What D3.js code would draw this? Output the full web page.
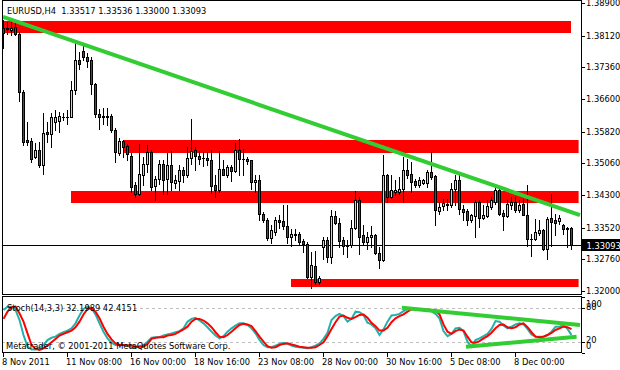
<!DOCTYPE html>
<html>
<head>
<meta charset="utf-8">
<script src="https://d3js.org/d3.v7.min.js"></script>
<style>
  body { margin: 0; background: #fff; }
  text { font-family: "DejaVu Sans", sans-serif; font-size: 8.3px; fill: #000; }
</style>
</head>
<body>
<div id="chart"></div>
<script>
// EURUSD H4 candles (bar index = position in array)
var opens = [1.3830,1.3827,1.3825,1.3833,1.3815,1.3677,1.3561,1.3559,1.3521,1.3537,
  1.3503,1.3580,1.3577,1.3605,1.3607,1.3617,1.3618,1.3617,1.3681,1.3753,
  1.3775,1.3761,1.3753,1.3695,1.3625,1.3619,1.3618,1.3619,1.3585,1.3531,
  1.3559,1.3547,1.3523,1.3453,1.3433,1.3479,1.3505,1.3533,1.3451,1.3469,
  1.3505,1.3468,1.3503,1.3459,1.3463,1.3489,1.3479,1.3519,1.3539,1.3523,
  1.3519,1.3519,1.3515,1.3453,1.3443,1.3493,1.3479,1.3497,1.3487,1.3537,
  1.3517,1.3517,1.3513,1.3461,1.3467,1.3385,1.3371,1.3327,1.3341,1.3371,
  1.3367,1.3355,1.3329,1.3335,1.3337,1.3319,1.3313,1.3233,1.3261,1.3221,
  1.3305,1.3321,1.3281,1.3379,1.3364,1.3321,1.3311,1.3311,1.3352,1.3417,
  1.3333,1.3317,1.3329,1.3335,1.3291,1.3275,1.3477,1.3425,1.3438,1.3437,
  1.3445,1.3489,1.3481,1.3463,1.3455,1.3459,1.3459,1.3484,1.3475,1.3391,
  1.3403,1.3407,1.3407,1.3445,1.3465,1.3397,1.3391,1.3369,1.3379,1.3413,
  1.3375,1.3379,1.3401,1.3413,1.3441,1.3387,1.3379,1.3407,1.3413,1.3393,
  1.3409,1.3383,1.3325,1.3325,1.3339,1.3345,1.3301,1.3375,1.3369,1.3367,
  1.3357,1.3349,1.33517];
var highs = [1.3849,1.3845,1.3847,1.3841,1.3821,1.3681,1.3605,1.3566,1.3554,1.3557,
  1.3626,1.3605,1.3627,1.3633,1.3629,1.3627,1.3633,1.3703,1.3793,1.3773,
  1.3789,1.3771,1.3761,1.3698,1.3637,1.3639,1.3638,1.3625,1.3590,1.3566,
  1.3561,1.3553,1.3530,1.3461,1.3553,1.3521,1.3549,1.3537,1.3475,1.3515,
  1.3513,1.3531,1.3535,1.3477,1.3501,1.3497,1.3545,1.3611,1.3545,1.3535,
  1.3533,1.3533,1.3537,1.3479,1.3535,1.3513,1.3501,1.3501,1.3554,1.3565,
  1.3541,1.3521,1.3515,1.3477,1.3477,1.3389,1.3375,1.3357,1.3377,1.3381,
  1.3407,1.3405,1.3349,1.3349,1.3341,1.3325,1.3317,1.3293,1.3295,1.3237,
  1.3329,1.3329,1.3395,1.3391,1.3375,1.3329,1.3321,1.3369,1.3439,1.3425,
  1.3357,1.3341,1.3355,1.3337,1.3305,1.3527,1.3481,1.3477,1.3465,1.3473,
  1.3521,1.3517,1.3509,1.3469,1.3473,1.3469,1.3489,1.3533,1.3477,1.3413,
  1.3421,1.3421,1.3459,1.3477,1.3477,1.3405,1.3397,1.3385,1.3417,1.3417,
  1.3405,1.3417,1.3425,1.3451,1.3449,1.3393,1.3417,1.3425,1.3425,1.3417,
  1.3421,1.3455,1.3337,1.3373,1.3371,1.3349,1.3377,1.3433,1.3385,1.3381,
  1.3361,1.3353,1.33536];
var lows = [1.3782,1.3815,1.3813,1.3813,1.3655,1.3549,1.3549,1.3509,1.3518,1.3497,
  1.3481,1.3557,1.3545,1.3585,1.3581,1.3609,1.3601,1.3616,1.3673,1.3733,
  1.3753,1.3737,1.3673,1.3617,1.3589,1.3601,1.3597,1.3581,1.3509,1.3527,
  1.3521,1.3513,1.3437,1.3425,1.3429,1.3453,1.3485,1.3441,1.3419,1.3457,
  1.3433,1.3433,1.3441,1.3447,1.3441,1.3461,1.3473,1.3505,1.3489,1.3505,
  1.3499,1.3501,1.3435,1.3425,1.3437,1.3477,1.3473,1.3463,1.3485,1.3477,
  1.3477,1.3505,1.3445,1.3437,1.3369,1.3365,1.3323,1.3315,1.3335,1.3351,
  1.3348,1.3315,1.3309,1.3321,1.3313,1.3293,1.3230,1.3207,1.3217,1.3217,
  1.3277,1.3269,1.3267,1.3361,1.3305,1.3289,1.3281,1.3305,1.3349,1.3289,
  1.3313,1.3301,1.3305,1.3289,1.3255,1.3273,1.3413,1.3423,1.3429,1.3433,
  1.3413,1.3471,1.3437,1.3449,1.3449,1.3457,1.3449,1.3469,1.3359,1.3385,
  1.3393,1.3393,1.3401,1.3405,1.3385,1.3369,1.3357,1.3365,1.3329,1.3353,
  1.3373,1.3377,1.3397,1.3409,1.3381,1.3345,1.3377,1.3397,1.3389,1.3389,
  1.3381,1.3307,1.3285,1.3321,1.3333,1.3299,1.3277,1.3309,1.3333,1.3361,
  1.3337,1.3305,1.33000];
var closes = [1.3818,1.3831,1.3831,1.3815,1.3677,1.3557,1.3557,1.3517,1.3537,1.3501,
  1.3579,1.3575,1.3617,1.3617,1.3619,1.3616,1.3616,1.3681,1.3753,1.3745,
  1.3761,1.3751,1.3695,1.3625,1.3617,1.3618,1.3619,1.3585,1.3533,1.3559,
  1.3545,1.3529,1.3449,1.3433,1.3481,1.3505,1.3533,1.3449,1.3469,1.3505,
  1.3467,1.3503,1.3462,1.3465,1.3489,1.3477,1.3519,1.3535,1.3523,1.3516,
  1.3518,1.3513,1.3451,1.3443,1.3493,1.3479,1.3497,1.3487,1.3537,1.3517,
  1.3516,1.3511,1.3461,1.3467,1.3385,1.3369,1.3327,1.3345,1.3371,1.3365,
  1.3355,1.3329,1.3337,1.3336,1.3317,1.3313,1.3233,1.3263,1.3221,1.3231,
  1.3321,1.3281,1.3379,1.3362,1.3319,1.3307,1.3307,1.3352,1.3417,1.3329,
  1.3317,1.3329,1.3335,1.3291,1.3275,1.3477,1.3425,1.3441,1.3441,1.3445,
  1.3489,1.3477,1.3461,1.3455,1.3465,1.3465,1.3484,1.3473,1.3393,1.3401,
  1.3410,1.3409,1.3445,1.3465,1.3397,1.3389,1.3369,1.3381,1.3413,1.3375,
  1.3381,1.3403,1.3417,1.3441,1.3385,1.3379,1.3409,1.3413,1.3393,1.3405,
  1.3383,1.3325,1.3324,1.3341,1.3345,1.3301,1.3373,1.3365,1.3362,1.3375,
  1.3349,1.3350,1.33093];

// Stochastic(14,3,3): main and signal line
var stochMain = [77,83,83,77,59,32,11,6,6,9,14,23,27,29,34,37,40,44,53,67,
  79,83,80,69,53,38,26,18,14,14,14,13,9,9,12,14,20,27,28,28,
  31,33,35,37,39,44,56,61,63,58,53,46,38,31,26,30,38,44,49,53,
  53,50,44,35,23,14,10,10,13,16,18,16,13,11,10,9,8,10,13,17,
  25,36,59,66,70,66,56,61,74,73,68,54,51,44,32,42,56,67,68,70,
  75,79,79,78,77,77,77,75,70,62,39,30,34,44,45,39,20,11,23,26,
  30,34,43,57,56,49,44,47,51,53,51,43,33,29,29,29,32,38,47,47,
  50,43,32.1989];
var stochSignal = [61,74,82,83,71,56,35,14,7,5,8,13,19,25,31,34,37,40,46,56,
  69,79,80,74,62,47,34,24,17,14,14,13,13,11,11,11,16,25,27,28,
  28,31,32,34,38,42,47,56,61,61,58,53,46,37,29,28,32,38,44,50,
  52,51,48,39,29,20,12,9,10,14,16,17,15,13,11,10,9,9,10,14,
  19,30,43,55,65,67,63,61,64,68,69,63,54,48,40,40,45,55,62,66,
  69,74,78,79,79,78,78,76,75,69,51,38,34,39,42,40,29,19,18,21,
  26,30,36,44,50,51,46,44,46,51,53,46,37,29,28,29,32,36,41,44,
  47,46,42.4151];

// red zones: [first bar, last bar, upper price, lower price]
var zones = [
  [-0.25, 142, 1.3848, 1.3819],
  [30, 143.9, 1.3561, 1.3531],
  [17, 143.9, 1.3439, 1.3410],
  [72, 143.9, 1.3228, 1.3209]
];
// green trend lines: [bar, value] pairs
var priceTrend = [[0, 1.3857], [144.25, 1.3382]];
var stochTrends = [
  [[99.7, 81], [144.25, 50]],
  [[115.75, 11], [143.4, 29]]
];

var priceTicks = [1.389, 1.3812, 1.3736, 1.366, 1.3582, 1.3506, 1.343, 1.3352, 1.3276, 1.32];
var stochTicks = [100, 80, 20, 0];
var dateLabels = ["8 Nov 2011", "11 Nov 08:00", "16 Nov 00:00", "18 Nov 16:00", "23 Nov 08:00",
  "28 Nov 00:00", "30 Nov 16:00", "5 Dec 08:00", "8 Dec 00:00"];
var dateBars = [0, 16, 32, 48, 64, 80, 96, 112, 128];

var svgWidth = 620;
var svgHeight = 370;
var left = 2, right = 581;
var mainTop = 0, mainBottom = 294;
var subTop = 296, subBottom = 352;

var svg = d3.select("#chart")
  .append("svg")
  .attr("width", svgWidth)
  .attr("height", svgHeight)
  .style("display", "block");

// scales
var x = d3.scaleLinear().domain([0, 144.5]).range([3, 581]);
var y = d3.scaleLinear().domain([1.32, 1.389]).range([291, 3]);
var ys = d3.scaleLinear().domain([0, 100]).range([352.8, 297.2]);

svg.append("clipPath").attr("id", "clipMain")
  .append("rect").attr("x", left).attr("y", mainTop).attr("width", right - left).attr("height", mainBottom - mainTop);
svg.append("clipPath").attr("id", "clipSub")
  .append("rect").attr("x", left).attr("y", subTop).attr("width", right - left).attr("height", subBottom - subTop);

var main = svg.append("g").attr("clip-path", "url(#clipMain)");
var sub = svg.append("g").attr("clip-path", "url(#clipSub)");

// zones
main.selectAll(".zone").data(zones).enter()
  .append("rect")
  .attr("x", d => x(d[0]))
  .attr("y", d => Math.round(y(d[2])))
  .attr("width", d => x(d[1]) - x(d[0]))
  .attr("height", d => Math.round(y(d[3])) - Math.round(y(d[2])))
  .attr("fill", "#ff0000");

// current price line
var lastClose = closes[closes.length - 1];
var py = Math.round(y(lastClose)) + 0.5;
main.append("line")
  .attr("x1", left).attr("x2", right)
  .attr("y1", py).attr("y2", py)
  .attr("stroke", "#000").attr("stroke-width", 1);

// candles
var bars = d3.range(opens.length).map(function(i) {
  return { i: i, o: opens[i], h: highs[i], l: lows[i], c: closes[i] };
});
var candle = main.selectAll(".candle").data(bars).enter().append("g")
  .attr("shape-rendering", "crispEdges");

candle.append("line")
  .attr("x1", d => x(d.i) + 0.5).attr("x2", d => x(d.i) + 0.5)
  .attr("y1", d => Math.round(y(d.h)))
  .attr("y2", d => Math.round(y(d.l)) + 1)
  .attr("stroke", "#000");

candle.each(function(d) {
  var top = Math.round(y(Math.max(d.o, d.c)));
  var bot = Math.round(y(Math.min(d.o, d.c)));
  var g = d3.select(this);
  if (bot - top < 1) {
    g.append("line")
      .attr("x1", x(d.i) - 1).attr("x2", x(d.i) + 2)
      .attr("y1", top + 0.5).attr("y2", top + 0.5)
      .attr("stroke", "#000");
  } else {
    g.append("rect")
      .attr("x", x(d.i) - 0.5).attr("y", top + 0.5)
      .attr("width", 2).attr("height", bot - top)
      .attr("fill", d.c >= d.o ? "#adff2f" : "#ff0000")
      .attr("stroke", "#000").attr("stroke-width", 1);
  }
});

// trend line on price
main.append("line")
  .attr("x1", x(priceTrend[0][0])).attr("y1", y(priceTrend[0][1]))
  .attr("x2", x(priceTrend[1][0])).attr("y2", y(priceTrend[1][1]))
  .attr("stroke", "#32cd32").attr("stroke-width", 4);

// stochastic panel
sub.selectAll(".level").data([80, 20]).enter()
  .append("line")
  .attr("x1", left).attr("x2", right)
  .attr("y1", d => Math.round(ys(d)) + 0.5).attr("y2", d => Math.round(ys(d)) + 0.5)
  .attr("stroke", "#c0c0c0").attr("stroke-dasharray", "3,3");

var stochLine = d3.line()
  .x((d, i) => x(i) + 0.5)
  .y(d => ys(d));

sub.append("path").datum(stochMain)
  .attr("d", stochLine)
  .attr("fill", "none").attr("stroke", "#20b2aa").attr("stroke-width", 2);
sub.append("path").datum(stochSignal)
  .attr("d", stochLine)
  .attr("fill", "none").attr("stroke", "#ff0000").attr("stroke-width", 2);

sub.selectAll(".strend").data(stochTrends).enter()
  .append("line")
  .attr("x1", d => x(d[0][0])).attr("y1", d => ys(d[0][1]))
  .attr("x2", d => x(d[1][0])).attr("y2", d => ys(d[1][1]))
  .attr("stroke", "#32cd32").attr("stroke-width", 4);

svg.append("text").attr("x", 7).attr("y", 311).text("Stoch(14,3,3) 32.1989 42.4151");
svg.append("text").attr("x", 6).attr("y", 348.5).text("Metatrader, \u00a9 2001-2011 MetaQuotes Software Corp.");

// frames
var frames = svg.append("g").attr("fill", "none").attr("stroke", "#000").attr("shape-rendering", "crispEdges");
frames.append("rect").attr("x", left + 0.5).attr("y", mainTop + 0.5)
  .attr("width", right - left).attr("height", mainBottom - mainTop);
frames.append("rect").attr("x", left + 0.5).attr("y", subTop + 0.5)
  .attr("width", right - left).attr("height", subBottom - subTop);

// title
svg.append("text").attr("x", 7).attr("y", 13.5)
  .text("EURUSD,H4  1.33517 1.33536 1.33000 1.33093")
  .attr("xml:space", "preserve").style("white-space", "pre");

// right price axis
var axisG = svg.append("g").attr("shape-rendering", "crispEdges");
axisG.selectAll(".ptick").data(priceTicks).enter()
  .append("line")
  .attr("x1", right + 0.5).attr("x2", right + 4)
  .attr("y1", d => Math.round(y(d)) + 0.5).attr("y2", d => Math.round(y(d)) + 0.5)
  .attr("stroke", "#000");
svg.selectAll(".plabel").data(priceTicks).enter()
  .append("text")
  .attr("x", 586)
  .attr("y", d => Math.round(y(d)) + 3)
  .text(d => d3.format(".5f")(d));

// stoch axis
axisG.selectAll(".stick").data(stochTicks).enter()
  .append("line")
  .attr("x1", right + 0.5).attr("x2", right + 4)
  .attr("y1", d => Math.round(ys(d)) + 0.5).attr("y2", d => Math.round(ys(d)) + 0.5)
  .attr("stroke", "#000");
svg.selectAll(".slabel").data(stochTicks).enter()
  .append("text")
  .attr("x", 586)
  .attr("y", d => Math.min(Math.max(ys(d) + 1.5, 306.5), 348.5))
  .text(d => d);

// current price box
svg.append("rect")
  .attr("x", 582).attr("y", py - 6.5)
  .attr("width", 38).attr("height", 12)
  .attr("fill", "#000");
svg.append("text")
  .attr("x", 586.5).attr("y", py + 3)
  .style("fill", "#fff")
  .text(d3.format(".5f")(lastClose));

// time axis
axisG.selectAll(".dtick").data(dateBars).enter()
  .append("line")
  .attr("x1", d => x(d) + 0.5).attr("x2", d => x(d) + 0.5)
  .attr("y1", subBottom + 1).attr("y2", subBottom + 5)
  .attr("stroke", "#000");
svg.selectAll(".dlabel").data(dateLabels).enter()
  .append("text")
  .attr("x", (d, i) => x(dateBars[i]) - 1)
  .attr("y", 364.5)
  .text(d => d);
</script>
</body>
</html>
